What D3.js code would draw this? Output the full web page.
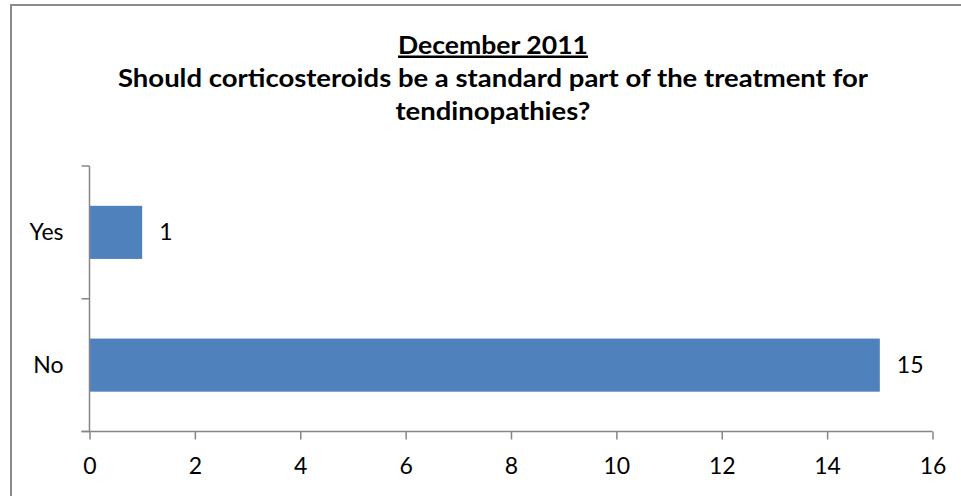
<!DOCTYPE html>
<html>
<head>
<meta charset="utf-8">
<script src="https://cdn.jsdelivr.net/npm/d3@7"></script>
<style>
  body { margin: 0; background: #fff; }
  svg { display: block; font-family: Lato, "Open Sans", sans-serif; }
</style>
</head>
<body>
<svg id="chart"></svg>
<script>
// Données du graphique
const categories = ["Yes", "No"];
const values = [1, 15];
const xTicks = [0, 2, 4, 6, 8, 10, 12, 14, 16];
const titleLines = [
  "December 2011",
  "Should corticosteroids be a standard part of the treatment for",
  "tendinopathies?"
];

const width = 961,
  height = 496;

const svg = d3.select("#chart").attr("width", width).attr("height", height);

// Cadre du graphique (coupé à droite et en bas)
svg
  .append("rect")
  .attr("x", 11)
  .attr("y", 5)
  .attr("width", 1000)
  .attr("height", 600)
  .attr("fill", "#fff")
  .attr("stroke", "#8a8a8a")
  .attr("stroke-width", 2);

// Zone de tracé
const plot = { left: 89.5, right: 932.5, top: 166, bottom: 431.5 };

const x = d3
  .scaleLinear()
  .domain([0, 16])
  .range([plot.left, plot.right]);

const y = d3
  .scaleBand()
  .domain(categories)
  .range([plot.top, plot.bottom])
  .paddingInner(0.6)
  .paddingOuter(0.3);

// Titre (largeurs ajustées sur l'original)
const titleY = [53.5, 86.5, 119.5];
const titleW = [190, 750, 195];

titleLines.forEach((line, i) => {
  svg
    .append("text")
    .attr("x", 493)
    .attr("y", titleY[i])
    .attr("text-anchor", "middle")
    .attr("font-weight", "bold")
    .attr("font-size", 25)
    .attr("fill", "#000")
    .attr("textLength", titleW[i])
    .attr("lengthAdjust", "spacingAndGlyphs")
    .style("text-decoration", i === 0 ? "underline" : null)
    .text(line);
});

// Barres
svg
  .selectAll(".bar")
  .data(categories)
  .join("rect")
  .attr("class", "bar")
  .attr("x", x(0))
  .attr("y", d => y(d))
  .attr("width", (d, i) => x(values[i]) - x(0))
  .attr("height", y.bandwidth())
  .attr("fill", "#4f81bd");

// Étiquettes de valeurs
svg
  .selectAll(".value")
  .data(categories)
  .join("text")
  .attr("class", "value")
  .attr("x", (d, i) => x(values[i]) + 17)
  .attr("y", d => y(d) + y.bandwidth() / 2)
  .attr("dy", "0.34em")
  .attr("font-size", 23)
  .attr("fill", "#000")
  .text((d, i) => values[i]);

// Axe X
const xAxis = svg
  .append("g")
  .attr("transform", `translate(0,${plot.bottom})`)
  .call(
    d3
      .axisBottom(x)
      .tickValues(xTicks)
      .tickSize(8)
      .tickSizeOuter(0)
  );

xAxis.select(".domain").remove();
xAxis
  .append("line")
  .attr("x1", plot.left - 8)
  .attr("x2", plot.right)
  .attr("stroke", "#868686")
  .attr("stroke-width", 1.5);
xAxis.selectAll(".tick line").attr("stroke", "#868686").attr("stroke-width", 1.5);
xAxis
  .selectAll(".tick text")
  .attr("y", 42)
  .attr("dy", 0)
  .attr("font-size", 23)
  .attr("font-family", "Lato, sans-serif")
  .attr("fill", "#000");

// Axe Y : ligne et graduations aux limites des catégories
const yAxis = svg.append("g");
yAxis
  .append("line")
  .attr("x1", plot.left)
  .attr("x2", plot.left)
  .attr("y1", plot.top)
  .attr("y2", plot.bottom)
  .attr("stroke", "#868686")
  .attr("stroke-width", 1.5);

const bounds = categories
  .map(d => y(d) - y.step() * y.paddingOuter())
  .concat([plot.bottom]);

yAxis
  .selectAll(".ytick")
  .data(bounds)
  .join("line")
  .attr("class", "ytick")
  .attr("x1", plot.left - 8)
  .attr("x2", plot.left)
  .attr("y1", d => d)
  .attr("y2", d => d)
  .attr("stroke", "#868686")
  .attr("stroke-width", 1.5);

yAxis
  .selectAll(".ylabel")
  .data(categories)
  .join("text")
  .attr("class", "ylabel")
  .attr("x", plot.left - 26)
  .attr("y", d => y(d) + y.bandwidth() / 2)
  .attr("dy", "0.34em")
  .attr("text-anchor", "end")
  .attr("font-size", 23)
  .attr("fill", "#000")
  .text(d => d);
</script>
</body>
</html>
